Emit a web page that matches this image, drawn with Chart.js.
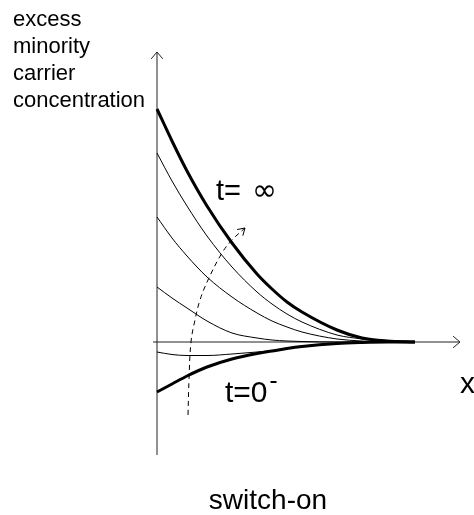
<!DOCTYPE html>
<html>
<head>
<meta charset="utf-8">
<script src="https://cdn.jsdelivr.net/npm/chart.js@4.4.1/dist/chart.umd.min.js"></script>
<style>
  html, body { margin: 0; padding: 0; background: #fff; }
  canvas { display: block; }
</style>
</head>
<body>
<canvas id="myChart" width="474" height="515"></canvas>
<script>
'use strict';

// distance from the junction (same grid for every profile)
const xs = [0, 15, 30, 50, 75, 100, 115, 130, 145, 180, 205, 230, 258];

// excess carrier profiles, from t=0- up to the steady state
const initial    = [-50, -42, -34, -25, -17, -11.5, -9, -6.5, -4.5, -1.5, -0.5, 0, 0];
const stageEarly = [-10, -12.5, -13.5, -13.5, -12, -10, -8.5, -6, -4, -1.5, -0.5, 0, 0];
const stage1     = [55, 44, 34, 21, 9, 4, 2, 1, 0.5, 0, 0, 0, 0];
const stage2     = [125, 104, 86, 65, 45, 29, 21, 15, 10, 3, 1, 0, 0];
const stage3     = [189, 161, 136, 106, 75, 50, 38, 28, 20, 7, 3, 0, 0];
const steady     = [233, 201, 171, 136, 99, 68, 53, 40, 30, 12, 4, 1, 0];

// dashed "time increases" arrow
const timeX = [31, 32, 34, 38, 43, 51, 65, 75, 88];
const timeY = [-73, -38, 0, 22, 42, 62, 89, 102, 114];

const yLabel = ['excess', 'minority', 'carrier', 'concentration'];

function pts(xv, yv) {
  return xv.map((x, i) => ({ x: x, y: yv[i] }));
}

function curve(values, width) {
  return {
    data: pts(xs, values),
    showLine: true,
    borderColor: '#000',
    borderWidth: width,
    pointRadius: 0,
    cubicInterpolationMode: 'monotone',
    clip: false
  };
}

const font = '"Liberation Sans", Arial, Helvetica, sans-serif';

function arrowHead(ctx, px, py, angle, len, spread) {
  ctx.beginPath();
  ctx.moveTo(px - len * Math.cos(angle - spread), py - len * Math.sin(angle - spread));
  ctx.lineTo(px, py);
  ctx.lineTo(px - len * Math.cos(angle + spread), py - len * Math.sin(angle + spread));
  ctx.stroke();
}

const sketch = {
  id: 'sketch',
  beforeDatasetsDraw(chart) {
    const { ctx, scales: { x, y } } = chart;
    ctx.save();
    ctx.strokeStyle = '#222';
    ctx.lineWidth = 1;
    // axes with open arrow heads
    const ox = x.getPixelForValue(0), oy = y.getPixelForValue(0);
    const top = y.getPixelForValue(y.max), bottom = y.getPixelForValue(y.min);
    const right = x.getPixelForValue(x.max), left = x.getPixelForValue(-4);
    ctx.beginPath();
    ctx.moveTo(ox, bottom);
    ctx.lineTo(ox, top);
    ctx.moveTo(left, oy);
    ctx.lineTo(right, oy);
    ctx.stroke();
    arrowHead(ctx, ox, top, -Math.PI / 2, 9, 0.7);
    arrowHead(ctx, right, oy, 0, 9, 0.7);
    ctx.restore();
  },
  afterDatasetsDraw(chart) {
    const { ctx, scales: { x, y } } = chart;
    ctx.save();
    // head of the dashed arrow
    const n = timeX.length;
    const ax = x.getPixelForValue(timeX[n - 1]), ay = y.getPixelForValue(timeY[n - 1]);
    const bx = x.getPixelForValue(timeX[n - 2]), by = y.getPixelForValue(timeY[n - 2]);
    ctx.strokeStyle = '#000';
    ctx.lineWidth = 1;
    arrowHead(ctx, ax, ay, Math.atan2(ay - by, ax - bx), 8, 0.55);

    ctx.fillStyle = '#000';
    ctx.textBaseline = 'alphabetic';
    ctx.textAlign = 'left';
    ctx.font = '22px ' + font;
    yLabel.forEach((t, i) => ctx.fillText(t, 13, 26 + i * 27));

    // t = infinity, with a wider infinity sign
    ctx.font = '29px ' + font;
    const tx = x.getPixelForValue(59), ty = y.getPixelForValue(142);
    ctx.fillText('t=', tx, ty);
    ctx.font = '30px "DejaVu Sans", sans-serif';
    ctx.fillText('\u221E', tx + 36, ty);

    ctx.font = '30px ' + font;
    const zx = x.getPixelForValue(68), zy = y.getPixelForValue(-60);
    ctx.fillText('t=0', zx, zy);
    const w = ctx.measureText('t=0').width;
    ctx.fillRect(zx + w + 3, zy - 21, 6, 2);

    ctx.fillText('x', x.getPixelForValue(303), y.getPixelForValue(-51));

    ctx.textAlign = 'center';
    ctx.font = '28px ' + font;
    ctx.fillText('switch-on', x.getPixelForValue(111), y.getPixelForValue(-167));
    ctx.restore();
  }
};

const ctx = document.getElementById('myChart').getContext('2d');
const myChart = new Chart(ctx, {
  type: 'scatter',
  data: {
    datasets: [
      curve(initial, 3),
      curve(stageEarly, 1),
      curve(stage1, 1),
      curve(stage2, 1),
      curve(stage3, 1),
      curve(steady, 3),
      {
        data: pts(timeX, timeY),
        showLine: true,
        borderColor: '#000',
        borderWidth: 1,
        borderDash: [5, 4],
        pointRadius: 0,
        tension: 0.4,
        clip: false
      }
    ]
  },
  options: {
    responsive: false,
    animation: false,
    events: [],
    layout: { padding: { left: 152, right: 14, top: 52, bottom: 60 } },
    plugins: {
      legend: { display: false },
      tooltip: { enabled: false }
    },
    scales: {
      x: { type: 'linear', min: -5, max: 303, display: false },
      y: { type: 'linear', min: -113, max: 290, display: false }
    }
  },
  plugins: [sketch]
});
</script>
</body>
</html>
